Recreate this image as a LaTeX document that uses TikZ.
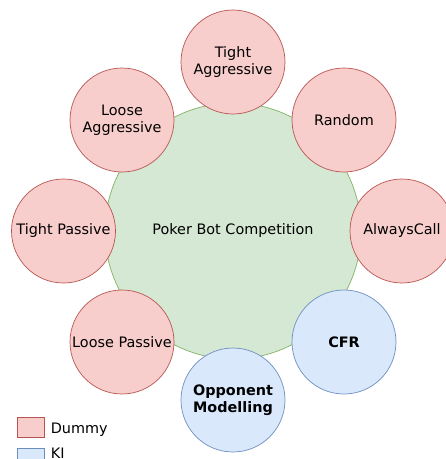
\documentclass[tikz,border=0pt]{standalone}
\usepackage{fontspec}
\setmainfont{DejaVu Sans}
\definecolor{dummyfill}{HTML}{F8CECC}
\definecolor{dummyline}{HTML}{B85450}
\definecolor{kifill}{HTML}{DAE8FC}
\definecolor{kiline}{HTML}{6C8EBF}
\definecolor{compfill}{HTML}{D5E8D4}
\definecolor{compline}{HTML}{82B366}
\begin{document}
\begin{tikzpicture}[x=1pt,y=-1pt,line width=0.7pt,
	bot/.style={circle,minimum size=104pt,inner sep=0pt,align=center,
		font=\fontsize{14.4}{17}\selectfont,text=black},
	dummy/.style={bot,draw=dummyline,fill=dummyfill},
	ki/.style={bot,draw=kiline,fill=kifill,font=\fontsize{14.4}{17}\selectfont\bfseries},
	legendbox/.style={draw,minimum width=27pt,minimum height=20pt,inner sep=0pt},
	legendtext/.style={anchor=base west,inner sep=0pt,font=\fontsize{14.4}{17}\selectfont}]
	\useasboundingbox (0,0) rectangle (446,459);
	%Wettbewerb
	\node [circle,draw=compline,fill=compfill,minimum size=256pt,
		font=\fontsize{14.4}{17}\selectfont,text=black] (comp) at (233,231) {Poker Bot Competition};
	%Dummy Bots
	\node [dummy] (tightaggr) at (233,62) {Tight\\Aggressive};
	\node [dummy] (random) at (344,120) {Random};
	\node [dummy] (alwayscall) at (402,231) {AlwaysCall};
	\node [dummy] (tightpass) at (63.5,231) {Tight Passive};
	\node [dummy] (looseaggr) at (122,120) {Loose\\Aggressive};
	\node [dummy] (loosepass) at (122,342) {Loose Passive};
	%KI Bots
	\node [ki] (cfr) at (344,342) {CFR};
	\node [ki] (oppmod) at (233,400) {Opponent\\Modelling};
	%Legende
	\node [legendbox,draw=dummyline,fill=dummyfill] (dummybox) at (30.5,427) {};
	\node [legendbox,draw=kiline,fill=kifill] (kibox) at (30.5,458) {};
	\node [legendtext] (dummytext) at (50.5,433.5) {Dummy};
	\node [legendtext] (kitext) at (50.5,458.5) {KI};
\end{tikzpicture}
\end{document}
